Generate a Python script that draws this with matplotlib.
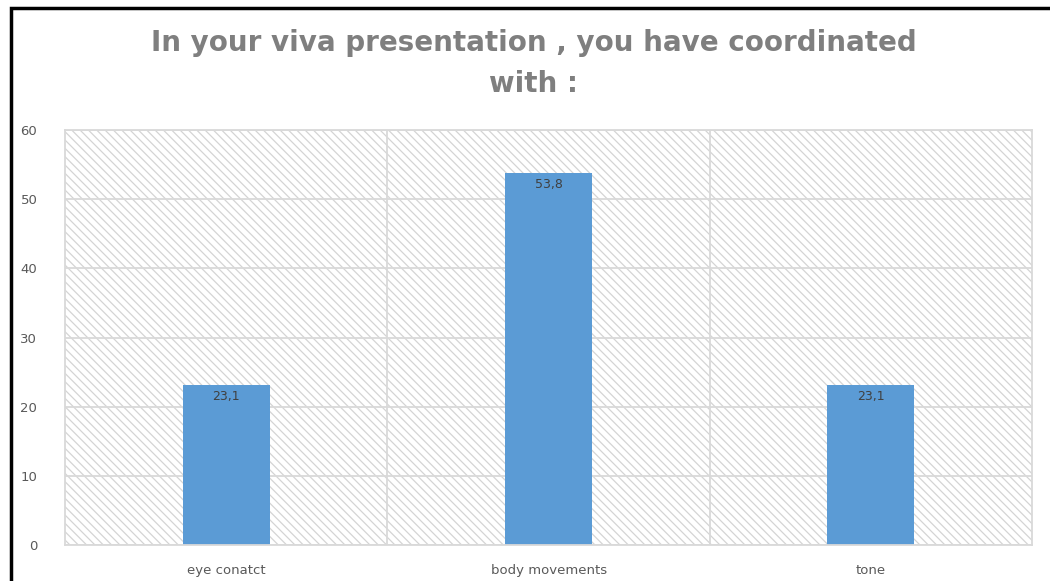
import matplotlib.pyplot as plt
from matplotlib.patches import Rectangle
import numpy as np

# Data
categories = ['eye conatct', 'body movements', 'tone']
values = [23.1, 53.8, 23.1]
yticks = [0, 10, 20, 30, 40, 50, 60]

plt.rcParams['hatch.linewidth'] = 0.9
plt.rcParams['hatch.color'] = '#d4d4d4'

fig = plt.figure(figsize=(10.5, 5.81), dpi=100)
ax = fig.add_axes([0.062, 0.062, 0.921, 0.714])

x = np.arange(len(categories))

# hatched plot background
ax.add_patch(Rectangle((0, 0), 1, 1, transform=ax.transAxes, facecolor='white',
                       edgecolor='#d4d4d4', hatch='\\' * 4, linewidth=0, zorder=0))

ax.set_xlim(-0.5, len(categories) - 0.5)
ax.set_ylim(0, 60)
ax.set_yticks(yticks)

# gridlines: horizontal at ticks, vertical between categories
for y in yticks:
    ax.axhline(y, color='#d9d9d9', linewidth=1.3, zorder=1)
for b in x[:-1] + 0.5:
    ax.axvline(b, color='#d9d9d9', linewidth=1.3, zorder=1)

bars = ax.bar(x, values, width=0.27, color='#5b9bd5', zorder=2)

for xi, v in zip(x, values):
    ax.text(xi, v - 1.6, f'{v:.1f}'.replace('.', ','), ha='center', va='center',
            fontsize=9, color='#404040', zorder=3)

ax.set_xticks(x)
ax.set_xticklabels(categories, fontsize=9.5, color='#595959')
ax.tick_params(axis='y', labelsize=9.5, labelcolor='#595959', length=0, pad=20)
ax.tick_params(axis='x', length=0, pad=14)

for s in ax.spines.values():
    s.set_color('#d9d9d9')
    s.set_linewidth(1.3)

fig.text(0.508, 0.891, 'In your viva presentation , you have coordinated\nwith :',
         ha='center', va='center', fontsize=20, fontweight='bold', color='#7f7f7f',
         linespacing=1.62)

# outer frame
fig.patches.append(Rectangle((0.0105, -0.02), 1.1, 1.006,
                             transform=fig.transFigure, fill=False,
                             edgecolor='black', linewidth=2.5))

fig.savefig('out.png', dpi=100)
